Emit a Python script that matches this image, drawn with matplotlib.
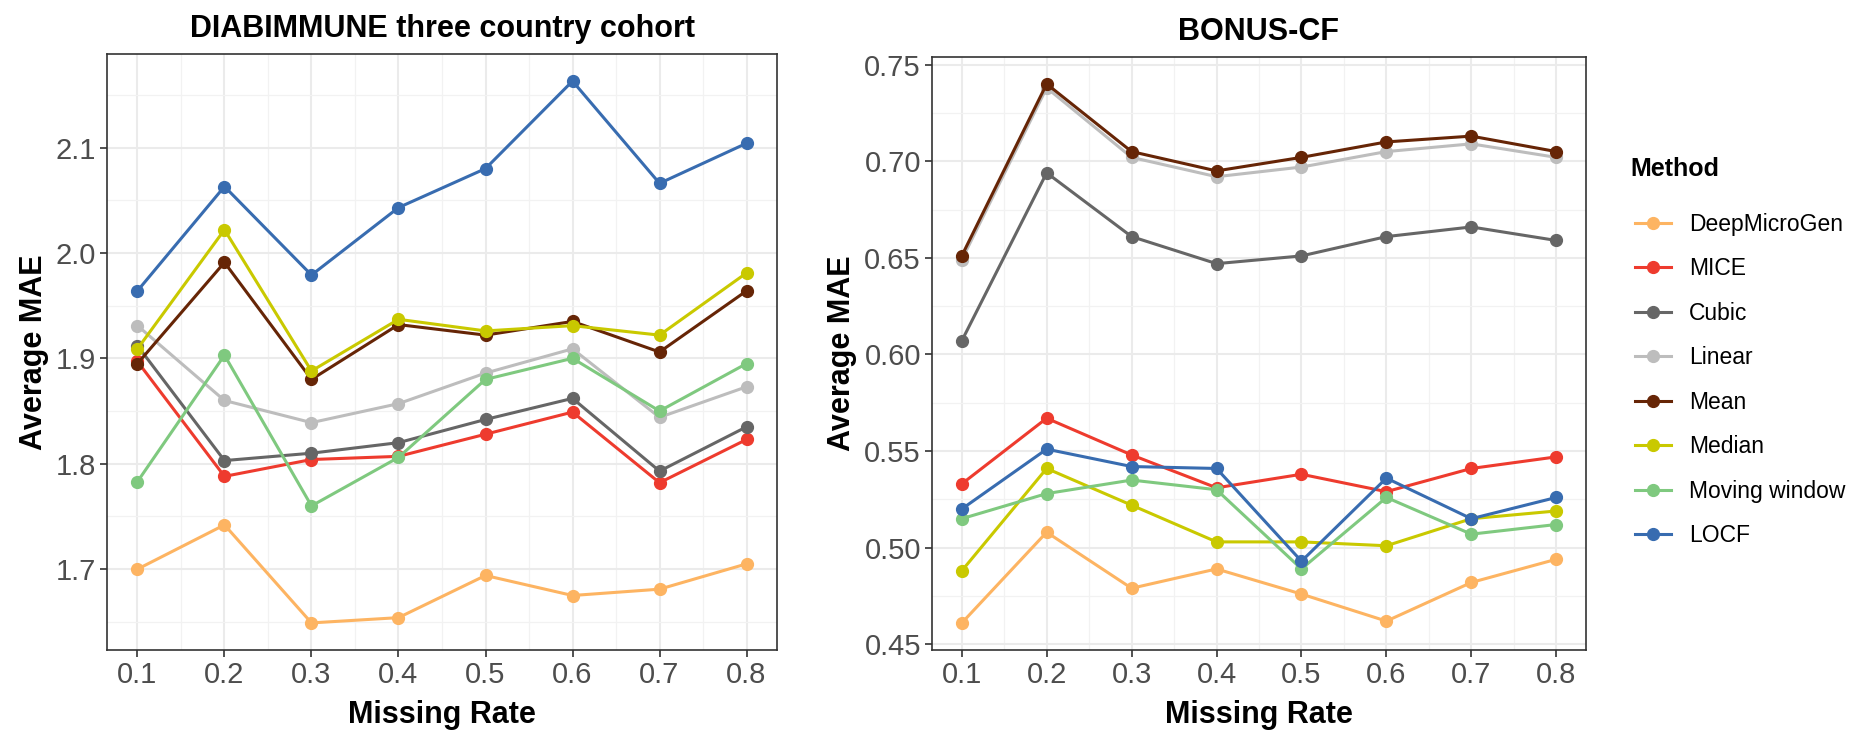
import matplotlib
matplotlib.use("Agg")
import matplotlib.pyplot as plt
from matplotlib.ticker import MultipleLocator, FormatStrFormatter

plt.rcParams['font.family'] = ['Liberation Sans', 'DejaVu Sans']

missing_rate = [0.1, 0.2, 0.3, 0.4, 0.5, 0.6, 0.7, 0.8]
methods = ['DeepMicroGen', 'MICE', 'Cubic', 'Linear', 'Mean', 'Median', 'Moving window', 'LOCF']
colors = ['#FDB462', '#EE3B2E', '#666666', '#BDBDBD', '#662506', '#C9C900', '#7FC97F', '#386CB0']

# DIABIMMUNE three country cohort
diab_deepmicrogen = [1.700, 1.742, 1.649, 1.654, 1.694, 1.675, 1.681, 1.705]
diab_mice = [1.897, 1.788, 1.804, 1.807, 1.828, 1.849, 1.782, 1.823]
diab_cubic = [1.912, 1.803, 1.810, 1.820, 1.842, 1.862, 1.793, 1.835]
diab_linear = [1.931, 1.860, 1.839, 1.857, 1.886, 1.909, 1.844, 1.873]
diab_mean = [1.895, 1.991, 1.880, 1.932, 1.922, 1.935, 1.906, 1.964]
diab_median = [1.909, 2.022, 1.888, 1.937, 1.926, 1.931, 1.922, 1.981]
diab_moving = [1.783, 1.903, 1.760, 1.806, 1.880, 1.900, 1.850, 1.895]
diab_locf = [1.964, 2.063, 1.979, 2.043, 2.080, 2.163, 2.066, 2.104]

# BONUS-CF
bonus_deepmicrogen = [0.461, 0.508, 0.479, 0.489, 0.476, 0.462, 0.482, 0.494]
bonus_mice = [0.533, 0.567, 0.548, 0.531, 0.538, 0.529, 0.541, 0.547]
bonus_cubic = [0.607, 0.694, 0.661, 0.647, 0.651, 0.661, 0.666, 0.659]
bonus_linear = [0.649, 0.738, 0.702, 0.692, 0.697, 0.705, 0.709, 0.702]
bonus_mean = [0.651, 0.740, 0.705, 0.695, 0.702, 0.710, 0.713, 0.705]
bonus_median = [0.488, 0.541, 0.522, 0.503, 0.503, 0.501, 0.515, 0.519]
bonus_moving = [0.515, 0.528, 0.535, 0.530, 0.489, 0.526, 0.507, 0.512]
bonus_locf = [0.520, 0.551, 0.542, 0.541, 0.493, 0.536, 0.515, 0.526]

diab_series = [diab_deepmicrogen, diab_mice, diab_cubic, diab_linear,
               diab_mean, diab_median, diab_moving, diab_locf]
bonus_series = [bonus_deepmicrogen, bonus_mice, bonus_cubic, bonus_linear,
                bonus_mean, bonus_median, bonus_moving, bonus_locf]

fig = plt.figure(figsize=(18.54, 7.30), dpi=100)
ax1 = fig.add_axes([107 / 1854, 80 / 730, 670 / 1854, 596 / 730])
ax2 = fig.add_axes([932 / 1854, 80 / 730, 654 / 1854, 593 / 730])


def style_axis(ax, title, ymajor, yfmt):
    ax.set_xlim(0.065, 0.835)
    ax.margins(y=0.05)
    ax.xaxis.set_major_locator(MultipleLocator(0.1))
    ax.xaxis.set_minor_locator(MultipleLocator(0.05))
    ax.xaxis.set_major_formatter(FormatStrFormatter('%.1f'))
    ax.yaxis.set_major_locator(MultipleLocator(ymajor))
    ax.yaxis.set_minor_locator(MultipleLocator(ymajor / 2))
    ax.yaxis.set_major_formatter(FormatStrFormatter(yfmt))
    ax.grid(True, which='major', color='#EBEBEB', linewidth=1.5, zorder=0)
    ax.grid(True, which='minor', color='#F2F2F2', linewidth=0.9, zorder=0)
    ax.set_axisbelow(True)
    for s in ax.spines.values():
        s.set_color('#333333')
        s.set_linewidth(1.2)
    ax.tick_params(which='major', length=5, width=1.2, color='#333333',
                   labelsize=21, labelcolor='#4D4D4D', pad=3)
    ax.tick_params(which='minor', length=0)
    ax.set_xlabel('Missing Rate', fontsize=22, fontweight='bold', labelpad=8)
    ax.set_ylabel('Average MAE', fontsize=22, fontweight='bold', labelpad=5)
    ax.set_title(title, fontsize=22, fontweight='bold', pad=12.5)


for ax, series in ((ax1, diab_series), (ax2, bonus_series)):
    for name, vals, c in zip(methods, series, colors):
        ax.plot(missing_rate, vals, color=c, linewidth=2.2, marker='o',
                markersize=8.5, label=name, zorder=3)

style_axis(ax1, 'DIABIMMUNE three country cohort', 0.1, '%.1f')
style_axis(ax2, 'BONUS-CF', 0.05, '%.2f')
ax1.set_ylim(ax1.get_ylim())
ax2.set_ylim(ax2.get_ylim())

# legend, with its title placed separately to match the spacing
fig.text(1630 / 1854, 1 - 169 / 730, 'Method', fontsize=18, fontweight='bold',
         ha='left', va='center')
handles, labels = ax2.get_legend_handles_labels()
leg = fig.legend(handles, labels, loc='upper left',
                 bbox_to_anchor=(1614 / 1854, 1 - 192 / 730), frameon=False,
                 fontsize=16.5, handlelength=1.57, handletextpad=0.8,
                 labelspacing=0.94)

fig.savefig('out.png', dpi=100)
